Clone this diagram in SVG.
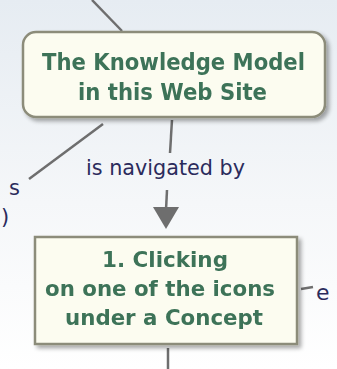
<svg xmlns="http://www.w3.org/2000/svg" width="337" height="369" viewBox="0 0 337 369">
<defs>
<linearGradient id="bg" x1="0" y1="0" x2="0" y2="1">
<stop offset="0" stop-color="#e6ecf2"/>
<stop offset="0.55" stop-color="#f5f7f9"/>
<stop offset="1" stop-color="#ffffff"/>
</linearGradient>
<filter id="sh" x="-10%" y="-10%" width="125%" height="130%">
<feGaussianBlur in="SourceAlpha" stdDeviation="2"/>
<feOffset dx="3" dy="3"/>
<feComponentTransfer><feFuncA type="linear" slope="0.35"/></feComponentTransfer>
<feMerge><feMergeNode/><feMergeNode in="SourceGraphic"/></feMerge>
</filter>
</defs>
<style>
.node{fill:#fcfcf0;stroke:#8c8c7a;stroke-width:2.5}
.nt{font-family:"DejaVu Sans",Verdana,sans-serif;font-weight:bold;fill:#3d7358}
.lt{font-family:"DejaVu Sans",Verdana,sans-serif;fill:#2b2b5c}
.ln{stroke:#6e6e6e;stroke-width:2.5;fill:none}
.ah{fill:#6e6e6e}
</style>
<rect width="337" height="369" fill="url(#bg)"/>
<g id="connectors">
<line class="ln" x1="92" y1="0" x2="122" y2="31"/>
<line class="ln" x1="103" y1="124" x2="29" y2="179"/>
<line class="ln" x1="172" y1="120" x2="170" y2="153"/>
<line class="ln" x1="167" y1="190" x2="166" y2="210"/>
<polygon class="ah" points="153,207 179,207 166,229"/>
<line class="ln" x1="301" y1="289" x2="313" y2="287"/>
<line class="ln" x1="168" y1="348" x2="168" y2="369"/>
<text class="lt" x="86" y="175" font-size="21" textLength="159" lengthAdjust="spacingAndGlyphs">is navigated by</text>
<text class="lt" x="9" y="195" font-size="21">s</text>
<text class="lt" x="1" y="224" font-size="21">)</text>
<text class="lt" x="316" y="300" font-size="22">e</text>
</g>
<g id="node-knowledge-model" filter="url(#sh)">
<rect class="node" x="23" y="32" width="302" height="85" rx="13"/>
<text class="nt" x="42" y="70" font-size="23" textLength="263" lengthAdjust="spacingAndGlyphs">The Knowledge Model</text>
<text class="nt" x="78" y="100" font-size="23" textLength="189" lengthAdjust="spacingAndGlyphs">in this Web Site</text>
</g>
<g id="node-clicking" filter="url(#sh)">
<rect class="node" x="35" y="237" width="262" height="107"/>
<text class="nt" x="102" y="267" font-size="20.5" textLength="126" lengthAdjust="spacingAndGlyphs">1. Clicking</text>
<text class="nt" x="45" y="296" font-size="20.5" textLength="230" lengthAdjust="spacingAndGlyphs">on one of the icons</text>
<text class="nt" x="65" y="325" font-size="20.5" textLength="198" lengthAdjust="spacingAndGlyphs">under a Concept</text>
</g>
</svg>
